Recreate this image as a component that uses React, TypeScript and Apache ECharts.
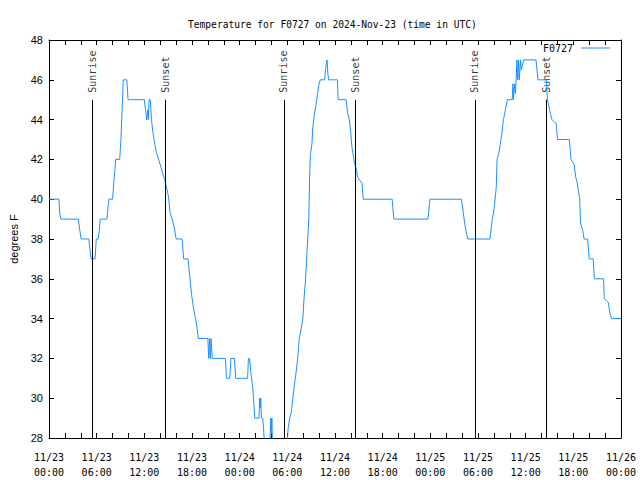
import React, { useEffect, useRef } from 'react';
import * as echarts from 'echarts';

const TITLE = 'Temperature for F0727 on 2024-Nov-23 (time in UTC)';
const SERIES_NAME = 'F0727';
const Y_NAME = 'degrees F';

// hours since 11/23 00:00 UTC
const hours = [
  0, 1.25, 1.35, 1.5, 3.7, 3.85, 4.05, 5.0, 5.15, 5.3, 5.8, 5.95, 6.2, 6.35, 6.45, 7.3, 7.45, 7.55, 8.0, 8.15,
  8.3, 8.4, 8.9, 9.05, 9.2, 9.35, 9.8, 9.95, 12.0, 12.15, 12.3, 12.45, 12.5, 12.6, 12.75, 12.9, 13.1, 13.3, 13.55, 13.8,
  14.1, 14.3, 14.55, 14.85, 15.05, 15.25, 15.5, 15.8, 16.0, 16.75, 16.95, 17.5, 17.75, 17.95, 18.2, 18.45, 18.65, 18.8, 20.0, 20.1,
  20.2, 20.3, 20.4, 20.55, 22.2, 22.35, 22.75, 22.9, 23.35, 23.5, 25.0, 25.1, 25.25, 25.4, 25.6, 25.75, 25.9, 26.45, 26.5, 26.6,
  26.65, 26.75, 26.9, 27.0, 27.15, 27.8, 27.9, 28.0, 28.05, 28.15, 29.95, 30.1, 30.3, 30.5, 30.7, 30.9, 31.1, 31.3, 31.5, 31.75,
  31.95, 32.1, 32.3, 32.5, 32.7, 32.8, 32.9, 33.1, 33.2, 33.4, 33.6, 33.8, 34.0, 34.15, 34.7, 34.8, 34.9, 35.0, 35.1, 35.2,
  36.3, 36.4, 37.4, 37.6, 37.8, 38.0, 38.1, 38.3, 38.45, 38.7, 38.85, 39.4, 39.55, 43.2, 43.4, 47.7, 47.95, 51.9, 52.1, 52.25,
  52.45, 52.7, 55.5, 55.6, 55.8, 55.95, 56.1, 56.3, 56.4, 56.6, 56.8, 57.0, 57.2, 57.45, 57.7, 58.3, 58.4, 58.45, 58.6, 58.7,
  58.8, 58.9, 59.0, 59.1, 59.2, 59.35, 59.45, 59.75, 61.3, 61.55, 62.6, 62.75, 63.0, 63.3, 63.85, 64.0, 65.5, 65.7, 66.1, 66.3,
  66.5, 66.8, 66.9, 67.2, 67.35, 67.8, 68.0, 68.5, 68.65, 69.8, 69.9, 70.4, 70.6, 70.8, 72
];
const temps = [
  40, 40, 39.3, 39, 39, 38.5, 38, 38, 37.5, 37, 37, 38, 38, 38.5, 39, 39, 39.7, 40, 40, 40.8,
  41.5, 42, 42, 43, 44.5, 46, 46, 45, 45, 44.5, 44, 44.5, 44, 45, 45, 44, 43.3, 42.8, 42.3, 42,
  41.6, 41.3, 41, 40.5, 40.1, 39.3, 39, 38.5, 38, 38, 37, 37, 36, 35.2, 34.5, 34, 33.5, 33, 33, 32,
  33, 32, 33, 32, 32, 31, 31, 32, 32, 31, 31, 32, 32, 31.3, 30.7, 30, 29, 29, 30, 29.5,
  30, 29, 29, 28.5, 27.5, 27.5, 29, 28.2, 29, 27.5, 27.5, 28.5, 29, 29.3, 30, 30.7, 31.3, 32, 33, 33.5,
  34, 35, 36, 37.5, 39, 41, 42.2, 42.8, 43.6, 44.25, 44.7, 45.3, 45.8, 46, 46, 46.5, 46.8, 47, 46.3, 46,
  46, 45, 45, 44.3, 44, 43.3, 42.7, 42.2, 41.8, 41.5, 41.1, 40.8, 40, 40, 39, 39, 40, 40, 39.5, 39,
  38.5, 38, 38, 38.3, 39, 39.3, 39.8, 40.6, 42, 42.25, 42.75, 43.3, 44, 44.5, 45, 45, 45.8, 45, 45.8, 45.3,
  46, 47, 46, 47, 46, 47, 46.5, 47, 47, 46, 46, 45, 44.5, 44, 43.8, 43, 43, 42, 41.75, 41.1,
  40.8, 40, 38.8, 38.4, 38, 38, 37, 37, 36, 36, 35, 34.8, 34.3, 34, 34
];

const eventHours = [5.5, 14.62, 29.55, 38.57, 53.6, 62.63];
const eventNames = ['Sunrise', 'Sunset', 'Sunrise', 'Sunset', 'Sunrise', 'Sunset'];
const EVENT_TOP = 45;

const xTickLabels = [
  '11/23\n00:00', '11/23\n06:00', '11/23\n12:00', '11/23\n18:00',
  '11/24\n00:00', '11/24\n06:00', '11/24\n12:00', '11/24\n18:00',
  '11/25\n00:00', '11/25\n06:00', '11/25\n12:00', '11/25\n18:00',
  '11/26\n00:00'
];
const X_MIN = 0;
const X_MAX = 72;
const X_STEP = 2;
const X_LABEL_STEP = 6;
const Y_MIN = 28;
const Y_MAX = 48;
const Y_STEP = 2;

const MONO = "'DejaVu Sans Mono', 'Liberation Mono', monospace";
const SANS = "'Liberation Sans', Arial, sans-serif";
const LINE_COLOR = '#1e90ff';

export default function App() {
  const ref = useRef<HTMLDivElement>(null);
  useEffect(() => {
    if (!ref.current) return;
    const chart = echarts.init(ref.current, undefined, { renderer: 'svg' });
    const axisLine = { show: true, onZero: false, lineStyle: { color: '#000', width: 1 } };
    const axisTick = { show: true, inside: true, length: 5, lineStyle: { color: '#000', width: 1 } };
    chart.setOption({
      animation: false,
      backgroundColor: '#fff',
      title: {
        text: TITLE,
        left: 183,
        top: 14,
        textStyle: { fontFamily: MONO, fontSize: 9.6, fontWeight: 'normal', color: '#000' }
      },
      legend: {
        data: [{ name: SERIES_NAME, icon: 'rect' }],
        right: 30,
        top: 43,
        align: 'right',
        itemWidth: 29,
        itemHeight: 1,
        padding: 0,
        textStyle: { fontFamily: MONO, fontSize: 10, color: '#000', padding: [0, 3, 0, 0] }
      },
      grid: { left: 46, right: 19, top: 40, bottom: 40, containLabel: false },
      xAxis: [
        {
          type: 'value', min: X_MIN, max: X_MAX, interval: X_STEP, position: 'bottom',
          axisLine, axisTick, splitLine: { show: false },
          axisLabel: {
            formatter: (v: number) => (v % X_LABEL_STEP === 0 ? xTickLabels[v / X_LABEL_STEP] : ''),
            fontFamily: MONO, fontSize: 10, lineHeight: 15, color: '#000', margin: 12,
            showMinLabel: true, showMaxLabel: true
          }
        },
        {
          type: 'value', min: X_MIN, max: X_MAX, interval: X_STEP, position: 'top',
          axisLine, axisTick, splitLine: { show: false }, axisLabel: { show: false }
        }
      ],
      yAxis: [
        {
          type: 'value', min: Y_MIN, max: Y_MAX, interval: Y_STEP, position: 'left',
          name: Y_NAME, nameLocation: 'middle', nameRotate: 90, nameGap: 30,
          nameTextStyle: { fontFamily: SANS, fontSize: 11, color: '#000' },
          axisLine, axisTick, splitLine: { show: false },
          axisLabel: { fontFamily: SANS, fontSize: 11, color: '#000', margin: 6 }
        },
        {
          type: 'value', min: Y_MIN, max: Y_MAX, interval: Y_STEP, position: 'right',
          axisLine, axisTick, splitLine: { show: false }, axisLabel: { show: false }
        }
      ],
      series: [
        {
          name: SERIES_NAME,
          type: 'line',
          data: hours.map((h, i) => [h, temps[i]]),
          symbol: 'none',
          clip: true,
          lineStyle: { color: LINE_COLOR, width: 1 },
          itemStyle: { color: LINE_COLOR },
          emphasis: { disabled: true },
          markLine: {
            silent: true,
            symbol: ['none', 'none'],
            label: { show: false },
            lineStyle: { color: '#000', width: 1, type: 'solid' },
            emphasis: { disabled: true },
            data: eventHours.map((h) => [{ coord: [h, EVENT_TOP] }, { coord: [h, Y_MIN] }])
          }
        },
        {
          name: 'events',
          type: 'scatter',
          data: eventHours.map((h, i) => [h, EVENT_TOP, eventNames[i]]),
          symbolSize: 0,
          silent: true,
          itemStyle: { color: 'rgba(0,0,0,0)' },
          label: {
            show: true,
            formatter: (p: any) => p.data[2],
            position: 'top',
            distance: 7,
            rotate: 90,
            align: 'left',
            verticalAlign: 'middle',
            fontFamily: MONO,
            fontSize: 10,
            color: '#000'
          }
        }
      ]
    });
    return () => chart.dispose();
  }, []);
  return <div ref={ref} style={{ position: 'fixed', left: 0, top: 0, width: 640, height: 480 }} />;
}
